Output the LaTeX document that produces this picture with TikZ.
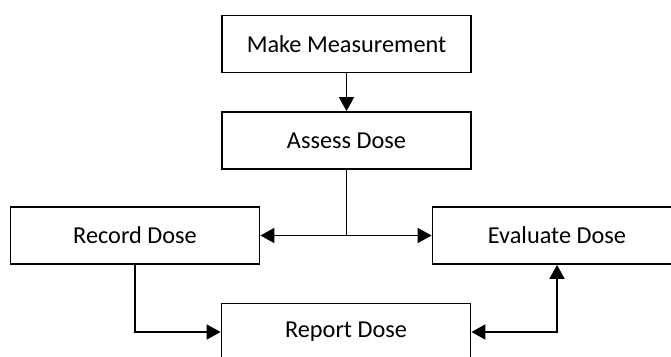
\documentclass[tikz,border=0pt]{standalone}
\usepackage{fontspec}
\setmainfont{Carlito}
\usetikzlibrary{arrows.meta}
\begin{document}
\begin{tikzpicture}[x=1pt,y=-1pt,
  box/.style={draw=black,line width=1.8pt,minimum width=249pt,minimum height=57pt,inner sep=0pt,
    font=\fontsize{24.3}{28}\selectfont},
  conn/.style={line width=1.8pt,-{Triangle[length=14pt,width=15pt]}},
  bidir/.style={line width=1.8pt,{Triangle[length=14pt,width=15pt]}-{Triangle[length=14pt,width=15pt]}}]
\useasboundingbox (0,0) rectangle (671,356);
\clip (0,0) rectangle (671,356);
\node[box] (mm) at (346.5,44) {Make Measurement};
\node[box] (ad) at (346.5,140.5) {Assess Dose};
\node[box] (rd) at (135,235.5) {Record Dose};
\node[box] (ed) at (557,235.5) {Evaluate Dose};
\node[box] (rp) at (346,332) {Report Dose};
\coordinate (j) at (ad.south |- rd.east);
\draw[conn] (mm) -- (ad);
\draw[line width=1.8pt] (ad.south) -- (j);
\draw[conn] (j) -- (rd.east);
\draw[conn] (j) -- (ed.west);
\draw[conn] (rd.south) |- (rp.west);
\draw[bidir] (rp.east) -| (ed.south);
\end{tikzpicture}
\end{document}
